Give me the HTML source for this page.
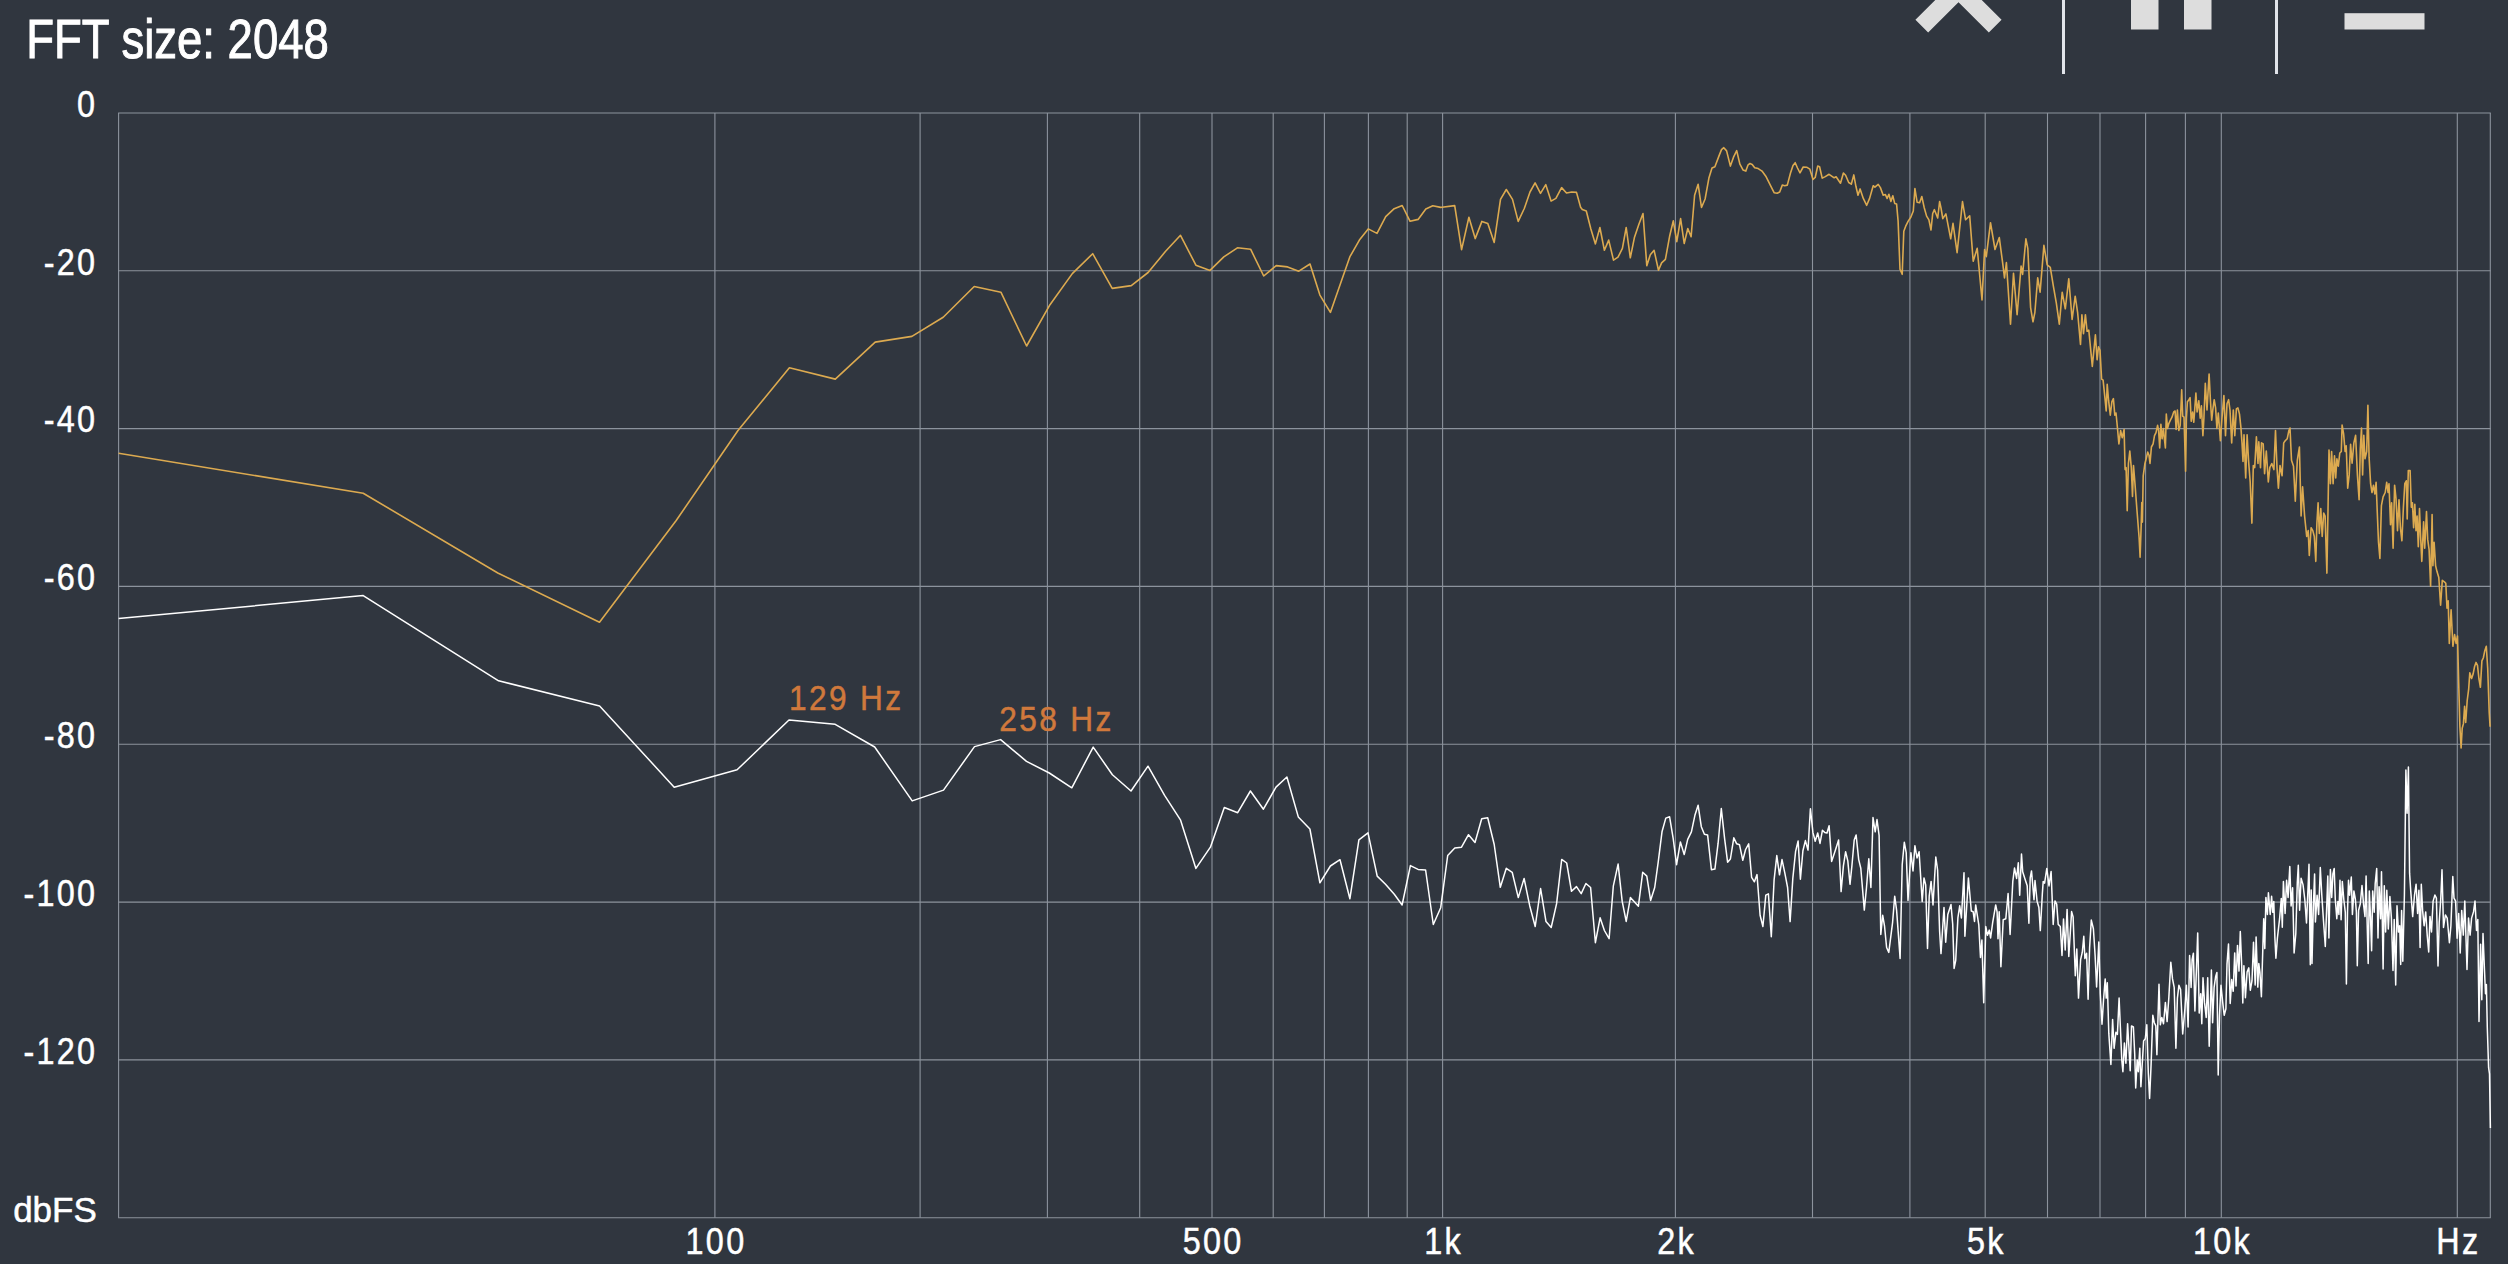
<!DOCTYPE html>
<html lang="en"><head><meta charset="utf-8"><title>FFT spectrum</title>
<style>html,body{margin:0;padding:0;background:#30363f;overflow:hidden}body{width:2508px;height:1264px}svg{display:block}text{font-family:"Liberation Sans",sans-serif}</style></head><body>
<svg width="2508" height="1264" viewBox="0 0 2508 1264">
<rect width="2508" height="1264" fill="#30363f"/>
<g stroke="#8c939d" stroke-width="1.1" fill="none">
<line x1="118.1" y1="113.0" x2="2490.8" y2="113.0"/>
<line x1="118.1" y1="270.8" x2="2490.8" y2="270.8"/>
<line x1="118.1" y1="428.6" x2="2490.8" y2="428.6"/>
<line x1="118.1" y1="586.4" x2="2490.8" y2="586.4"/>
<line x1="118.1" y1="744.3" x2="2490.8" y2="744.3"/>
<line x1="118.1" y1="902.1" x2="2490.8" y2="902.1"/>
<line x1="118.1" y1="1059.9" x2="2490.8" y2="1059.9"/>
<line x1="118.1" y1="1217.7" x2="2490.8" y2="1217.7"/>
<line x1="118.6" y1="113.0" x2="118.6" y2="1217.7"/>
<line x1="714.9" y1="113.0" x2="714.9" y2="1217.7"/>
<line x1="920.1" y1="113.0" x2="920.1" y2="1217.7"/>
<line x1="1047.4" y1="113.0" x2="1047.4" y2="1217.7"/>
<line x1="1139.7" y1="113.0" x2="1139.7" y2="1217.7"/>
<line x1="1212.0" y1="113.0" x2="1212.0" y2="1217.7"/>
<line x1="1273.2" y1="113.0" x2="1273.2" y2="1217.7"/>
<line x1="1324.4" y1="113.0" x2="1324.4" y2="1217.7"/>
<line x1="1368.4" y1="113.0" x2="1368.4" y2="1217.7"/>
<line x1="1407.2" y1="113.0" x2="1407.2" y2="1217.7"/>
<line x1="1442.6" y1="113.0" x2="1442.6" y2="1217.7"/>
<line x1="1675.4" y1="113.0" x2="1675.4" y2="1217.7"/>
<line x1="1812.5" y1="113.0" x2="1812.5" y2="1217.7"/>
<line x1="1909.9" y1="113.0" x2="1909.9" y2="1217.7"/>
<line x1="1985.2" y1="113.0" x2="1985.2" y2="1217.7"/>
<line x1="2047.5" y1="113.0" x2="2047.5" y2="1217.7"/>
<line x1="2100.0" y1="113.0" x2="2100.0" y2="1217.7"/>
<line x1="2145.6" y1="113.0" x2="2145.6" y2="1217.7"/>
<line x1="2185.4" y1="113.0" x2="2185.4" y2="1217.7"/>
<line x1="2221.3" y1="113.0" x2="2221.3" y2="1217.7"/>
<line x1="2457.3" y1="113.0" x2="2457.3" y2="1217.7"/>
<line x1="2490.3" y1="113.0" x2="2490.3" y2="1217.7"/>
</g>
<polyline fill="none" stroke="#dcaa50" stroke-width="1.6" stroke-linejoin="round" points="118.6,453.3 363.2,493.2 497.8,573.0 599.5,622.3 676.2,520.5 738.0,430.5 789.4,367.7 835.3,379.1 875.2,342.1 911.9,336.4 943.2,317.2 974.2,286.5 1000.9,292.2 1026.6,346.0 1050.0,304.7 1072.3,273.6 1092.7,253.7 1112.2,288.4 1131.3,285.6 1148.1,272.5 1165.6,251.3 1180.5,235.3 1195.9,265.2 1210.0,270.4 1223.8,256.9 1237.4,247.8 1250.6,249.2 1263.7,276.0 1276.2,265.6 1287.6,266.9 1298.8,271.2 1310.0,264.0 1319.9,295.1 1330.4,312.4 1340.6,283.2 1349.8,256.9 1359.4,240.1 1368.2,228.9 1377.0,233.4 1385.7,216.7 1394.2,208.7 1402.2,205.5 1410.1,221.3 1418.1,219.4 1425.8,209.0 1432.8,205.8 1440.7,207.4 1442.0,207.2 1454.7,205.6 1461.6,249.6 1468.9,217.3 1475.2,238.6 1481.9,221.4 1487.8,223.4 1494.2,242.4 1500.5,199.4 1506.3,189.5 1512.5,199.4 1518.2,221.4 1524.3,208.5 1530.0,192.0 1535.1,182.9 1540.5,193.3 1545.8,184.7 1551.1,201.1 1555.9,198.4 1561.6,187.6 1566.5,193.0 1571.8,192.0 1576.5,192.4 1580.6,207.2 1582.3,209.5 1586.3,211.0 1590.8,228.7 1595.4,243.9 1599.9,227.5 1604.4,250.3 1608.7,240.1 1613.5,260.1 1618.0,257.2 1622.4,248.4 1626.2,227.5 1630.3,257.8 1634.4,237.6 1638.9,224.3 1643.0,213.5 1646.8,265.7 1650.3,254.7 1654.1,250.3 1658.5,270.3 1661.6,262.9 1665.4,259.4 1669.6,236.3 1673.3,220.9 1676.8,241.6 1680.6,218.6 1684.2,243.5 1687.8,228.5 1691.1,236.7 1694.6,195.2 1698.1,184.2 1701.5,207.5 1705.1,199.0 1708.9,178.1 1712.0,168.0 1714.9,166.7 1719.0,155.9 1721.5,149.6 1723.8,147.7 1726.6,150.9 1730.4,166.1 1733.5,157.2 1736.7,150.6 1739.9,164.2 1743.0,169.9 1745.8,171.1 1748.1,164.8 1750.0,163.5 1752.2,164.4 1754.7,167.7 1758.2,168.6 1762.0,171.1 1765.8,176.2 1770.3,185.1 1774.1,192.7 1777.2,193.3 1779.7,192.0 1782.3,185.1 1784.6,185.7 1787.3,185.1 1790.5,173.0 1793.0,165.4 1795.2,162.7 1797.5,168.0 1800.0,172.8 1803.2,167.0 1807.0,167.3 1809.9,169.2 1813.0,179.4 1815.2,177.5 1817.7,166.1 1819.6,166.7 1822.2,178.1 1825.3,176.6 1829.1,174.3 1834.2,177.8 1836.1,176.8 1840.5,183.2 1843.4,173.0 1845.6,175.3 1848.7,182.5 1851.3,184.2 1853.8,174.9 1855.9,186.3 1858.0,195.2 1860.1,188.9 1863.3,198.4 1866.7,205.3 1869.6,198.4 1873.2,185.7 1874.9,187.2 1878.2,184.4 1880.4,187.6 1883.2,195.2 1885.4,194.6 1887.1,198.4 1888.9,194.3 1890.9,201.5 1892.8,195.8 1894.7,203.4 1896.6,204.1 1898.1,221.1 1900.0,269.2 1902.2,274.3 1903.8,231.3 1905.7,226.2 1908.2,221.1 1910.8,217.3 1913.3,211.0 1914.9,188.5 1917.1,202.2 1919.6,202.8 1921.8,196.5 1924.1,207.2 1926.6,216.1 1928.9,219.9 1931.0,230.0 1932.7,213.5 1934.4,209.7 1937.7,218.0 1939.6,201.5 1941.1,208.5 1942.8,218.6 1945.9,213.9 1950.7,238.8 1953.0,223.4 1957.1,252.6 1962.5,201.6 1965.6,219.8 1969.7,215.8 1973.2,261.3 1977.2,248.3 1982.0,300.0 1984.6,249.5 1986.3,256.6 1990.5,222.7 1995.0,249.5 1999.3,237.6 2002.9,264.9 2004.5,277.9 2006.4,262.5 2010.5,324.2 2013.5,273.2 2017.1,314.7 2021.1,266.1 2022.6,274.4 2025.9,238.8 2027.8,248.3 2030.6,307.6 2033.0,321.8 2034.9,312.3 2037.7,277.9 2040.1,292.2 2043.9,245.4 2047.2,264.9 2050.3,267.3 2053.4,286.3 2056.3,302.9 2059.3,324.2 2062.2,292.2 2065.3,308.8 2068.8,278.7 2072.1,319.5 2075.2,296.2 2077.6,312.3 2080.5,344.4 2081.9,314.7 2083.5,333.7 2085.4,314.7 2087.1,331.3 2088.8,330.1 2092.3,366.4 2095.4,334.9 2097.1,359.8 2098.5,346.7 2100.0,350.3 2101.6,379.1 2103.1,380.1 2105.1,399.7 2106.2,411.0 2107.2,384.2 2108.6,400.7 2110.3,415.1 2111.9,401.7 2113.4,398.6 2114.8,415.1 2116.0,413.0 2117.5,428.5 2118.9,443.9 2120.6,430.5 2122.2,437.7 2124.1,429.5 2125.1,469.6 2126.1,467.6 2127.2,510.8 2128.4,463.5 2129.8,451.1 2131.3,467.6 2132.5,496.4 2133.5,465.5 2135.0,484.0 2137.0,510.8 2139.1,537.5 2140.1,557.1 2141.2,525.2 2141.8,502.6 2142.4,522.1 2143.2,475.8 2144.9,463.5 2146.3,458.3 2147.7,452.1 2149.0,455.2 2150.0,463.5 2151.4,447.0 2153.1,443.9 2154.5,435.7 2156.0,432.6 2157.6,425.4 2158.6,430.5 2159.7,448.0 2160.9,424.4 2162.1,438.8 2163.4,428.5 2164.4,438.8 2165.4,448.0 2166.3,414.1 2167.5,428.5 2168.9,423.3 2170.4,420.2 2172.0,417.2 2173.7,412.0 2175.1,411.0 2176.1,429.5 2177.4,410.0 2178.8,430.5 2180.2,425.4 2181.7,389.8 2182.7,416.1 2184.0,417.2 2185.6,471.3 2186.4,418.2 2187.4,401.7 2188.9,399.7 2190.1,397.6 2191.2,421.3 2192.6,412.0 2193.8,422.3 2195.9,393.1 2197.1,412.0 2198.8,400.7 2200.2,418.2 2201.4,405.8 2202.9,435.7 2203.9,418.2 2205.3,383.2 2207.0,410.0 2209.1,374.0 2210.5,401.7 2211.7,420.2 2212.8,410.0 2214.2,399.7 2215.6,407.9 2216.9,428.5 2218.3,413.0 2220.4,440.8 2221.8,420.2 2223.9,395.6 2225.5,435.7 2227.0,403.8 2228.6,399.7 2230.0,410.0 2231.7,442.9 2233.3,410.0 2234.8,435.7 2236.4,408.9 2237.9,407.9 2239.5,414.1 2240.9,427.4 2242.0,442.9 2243.0,461.4 2244.0,434.7 2245.7,477.9 2247.1,434.7 2248.6,461.4 2250.2,482.0 2251.9,523.1 2253.3,465.5 2254.7,467.6 2256.4,436.7 2258.0,463.5 2258.8,441.9 2260.5,467.6 2261.5,442.9 2263.2,443.9 2264.6,473.7 2266.3,451.1 2268.3,482.0 2269.8,467.6 2271.8,463.5 2273.9,469.6 2275.5,430.5 2277.0,467.6 2278.4,488.1 2280.0,465.5 2282.1,475.8 2283.7,442.9 2285.2,440.8 2287.2,438.8 2288.9,430.5 2290.0,428.1 2291.5,460.3 2293.5,466.2 2295.3,501.3 2297.3,460.3 2299.4,447.1 2301.1,516.0 2302.6,486.7 2304.6,516.0 2306.7,536.5 2308.2,530.6 2309.3,555.5 2311.1,527.7 2312.8,530.6 2314.3,536.5 2315.8,561.4 2316.9,523.3 2318.1,502.8 2319.3,533.5 2320.8,508.6 2322.2,536.5 2323.7,513.0 2325.1,516.0 2326.9,573.1 2328.1,504.2 2329.0,450.0 2330.4,483.7 2331.6,451.5 2333.1,483.7 2334.5,455.9 2335.7,477.9 2336.9,458.8 2338.3,466.2 2339.8,453.0 2341.3,451.5 2342.1,425.1 2343.6,433.9 2345.1,451.5 2346.2,445.7 2347.7,488.1 2349.2,474.9 2350.6,444.2 2352.1,463.2 2353.9,442.7 2355.6,435.4 2357.4,474.9 2359.1,499.8 2360.3,448.6 2361.5,428.1 2362.6,474.9 2363.8,435.4 2365.0,458.8 2366.7,451.5 2367.9,405.2 2369.1,457.4 2370.6,483.7 2372.0,492.5 2373.5,485.2 2374.9,494.0 2376.1,482.3 2377.3,513.0 2378.5,542.3 2379.9,558.4 2381.4,505.7 2383.1,496.9 2385.2,492.5 2386.7,482.3 2388.1,492.5 2389.0,483.7 2390.5,524.7 2391.6,502.8 2393.1,548.2 2394.6,485.2 2396.0,498.4 2397.5,530.6 2399.0,499.8 2400.4,527.7 2401.9,540.8 2403.4,507.2 2404.8,483.7 2406.3,480.8 2407.2,518.9 2408.3,470.6 2410.1,470.6 2411.3,507.2 2412.4,502.8 2413.6,527.7 2414.8,504.2 2416.0,530.6 2417.1,516.0 2418.3,546.7 2419.5,508.6 2420.6,536.5 2421.8,561.4 2423.6,521.8 2424.7,548.2 2426.5,511.6 2427.7,539.4 2429.1,549.6 2430.6,586.3 2432.1,514.5 2432.9,565.7 2434.1,542.3 2435.6,565.7 2437.0,571.6 2438.8,577.5 2440.6,605.3 2442.3,580.4 2444.4,581.9 2445.8,583.3 2447.0,608.2 2448.2,600.9 2449.3,643.4 2451.1,609.7 2452.9,646.3 2454.6,634.6 2456.1,643.4 2457.5,636.0 2458.7,682.9 2459.9,726.8 2461.1,747.9 2462.2,728.3 2463.4,723.9 2464.6,706.3 2465.7,722.5 2467.2,700.5 2468.7,688.8 2469.8,672.7 2471.6,678.5 2473.1,674.1 2474.5,666.8 2476.0,662.4 2477.5,665.3 2478.9,678.5 2480.4,687.3 2481.9,660.9 2483.3,658.0 2484.8,650.7 2486.3,646.3 2487.7,668.3 2489.2,712.2 2490.1,726.8"/>
<polyline fill="none" stroke="#ffffff" stroke-width="1.5" stroke-linejoin="round" points="118.6,618.5 363.2,595.6 498.6,680.8 599.6,705.9 674.2,787.2 737.1,769.8 789.0,720.0 835.2,724.3 874.7,747.0 912.2,800.9 943.5,790.1 974.5,746.6 1000.6,739.6 1026.5,761.4 1049.3,773.0 1071.8,787.8 1093.2,747.1 1112.4,774.8 1131.0,791.0 1148.0,766.2 1164.6,795.3 1180.6,820.2 1195.9,868.4 1210.4,847.2 1224.3,807.5 1237.7,812.7 1250.4,791.0 1263.4,809.2 1276.0,787.1 1286.9,777.0 1298.3,816.9 1309.9,829.0 1319.9,882.8 1330.4,866.0 1340.0,859.7 1349.9,898.7 1358.9,839.8 1368.0,832.8 1377.2,876.1 1385.5,884.2 1394.3,894.3 1402.1,905.0 1410.4,865.6 1418.1,869.4 1425.6,870.0 1433.3,924.5 1440.7,907.7 1447.7,855.5 1454.8,848.1 1461.5,847.2 1468.5,834.7 1475.0,842.5 1481.7,818.7 1487.7,817.8 1494.2,844.5 1500.3,887.3 1506.3,868.3 1512.2,872.3 1518.3,897.6 1524.1,878.4 1529.7,905.7 1535.2,926.5 1540.6,888.5 1546.0,921.6 1551.2,927.5 1556.6,903.7 1561.7,859.4 1566.7,863.0 1571.5,891.3 1576.5,886.6 1581.2,893.6 1585.9,883.5 1590.6,887.5 1595.4,942.7 1600.1,917.8 1604.4,930.5 1609.1,938.7 1613.3,886.2 1618.1,864.1 1622.2,901.4 1626.2,921.4 1630.4,897.6 1638.4,906.2 1642.7,872.3 1646.8,876.1 1650.6,900.4 1654.7,887.5 1658.2,862.2 1662.0,831.8 1665.8,818.1 1669.6,816.8 1673.2,838.7 1676.6,864.7 1680.4,841.9 1684.2,854.6 1687.7,839.4 1691.4,831.8 1694.9,815.3 1698.1,805.2 1701.3,826.7 1704.4,834.3 1707.6,834.9 1711.4,869.7 1714.9,869.1 1718.1,843.2 1721.3,808.6 1724.7,839.4 1727.6,862.2 1730.4,859.0 1733.8,837.8 1736.7,843.8 1739.5,844.7 1742.8,860.3 1745.6,849.5 1748.7,843.8 1751.6,877.3 1754.4,881.8 1757.0,874.6 1760.1,915.3 1762.9,926.5 1765.8,895.1 1768.4,893.8 1771.3,936.8 1774.1,879.9 1776.8,855.6 1779.5,874.8 1782.0,859.6 1784.8,872.9 1787.6,887.5 1790.1,921.6 1792.8,878.6 1795.6,851.4 1798.1,840.9 1800.4,879.2 1802.9,850.8 1805.4,840.6 1808.0,850.1 1810.4,808.7 1812.9,832.4 1815.2,841.3 1817.7,833.0 1820.0,843.4 1822.4,830.3 1824.7,832.4 1827.0,833.0 1829.1,825.8 1831.6,861.5 1835.2,850.8 1838.6,840.0 1841.1,891.6 1843.4,865.9 1845.6,851.8 1847.8,860.9 1850.0,884.3 1851.9,865.9 1854.2,840.0 1856.1,834.9 1858.7,859.6 1860.8,868.3 1864.3,910.1 1866.5,887.5 1868.8,858.8 1870.9,887.5 1873.0,817.5 1875.2,831.8 1877.0,819.6 1879.1,835.3 1880.8,934.5 1882.7,915.3 1884.5,925.8 1886.6,947.5 1888.8,952.4 1892.6,922.3 1894.7,896.2 1896.6,910.1 1900.1,958.5 1902.2,864.8 1904.3,842.2 1906.2,852.7 1908.0,900.5 1910.9,852.7 1913.0,870.9 1914.9,845.7 1917.0,857.9 1919.1,851.8 1922.2,901.4 1924.0,877.9 1925.7,884.9 1927.5,948.4 1929.2,896.2 1931.1,881.4 1933.0,904.9 1935.8,857.0 1937.6,870.1 1939.6,931.0 1941.0,953.6 1944.0,907.5 1945.7,942.3 1947.8,914.5 1951.0,904.5 1952.7,924.0 1954.1,968.4 1955.7,960.6 1957.9,917.9 1959.7,905.8 1961.4,917.9 1964.0,872.7 1964.9,936.2 1968.4,877.9 1971.3,911.0 1973.2,911.8 1974.5,921.4 1975.7,904.9 1978.8,924.9 1980.5,957.4 1981.9,940.0 1983.7,1002.7 1985.8,926.6 1987.5,935.3 1989.3,930.1 1990.6,938.0 1992.7,922.3 1995.7,904.9 1997.1,911.8 1998.0,938.8 1999.2,911.8 2000.9,966.7 2003.2,919.7 2005.8,918.8 2008.1,893.6 2010.1,934.5 2012.8,881.4 2014.5,868.0 2016.6,878.4 2018.3,862.8 2019.7,895.3 2021.5,854.1 2022.7,871.8 2024.9,878.8 2027.2,885.7 2028.9,923.2 2030.2,877.9 2031.5,870.9 2034.0,899.7 2035.0,880.5 2037.1,901.4 2038.9,907.5 2040.3,930.6 2042.3,894.4 2043.2,881.4 2044.6,883.1 2046.8,868.4 2049.0,885.9 2051.1,871.6 2053.2,924.4 2055.0,900.9 2056.7,904.1 2058.2,924.4 2060.3,926.5 2062.0,955.4 2063.5,919.1 2065.2,950.0 2067.1,909.4 2068.8,956.5 2071.6,911.6 2073.1,916.9 2075.3,975.7 2076.8,949.0 2078.5,998.1 2080.6,959.7 2082.3,952.2 2083.8,936.2 2084.9,958.6 2086.6,953.2 2088.1,999.2 2089.6,947.9 2091.3,920.1 2093.4,928.7 2095.1,955.4 2096.6,987.0 2098.8,942.1 2100.3,993.8 2102.0,1024.2 2103.5,1000.3 2105.2,978.9 2106.2,998.1 2107.3,982.7 2108.8,1033.4 2110.9,1064.4 2112.6,1019.5 2114.1,1048.3 2115.9,1032.3 2117.4,1034.4 2119.1,998.1 2120.6,1032.3 2121.8,1060.1 2122.9,1071.8 2124.4,1043.0 2125.9,1063.3 2127.6,1023.8 2129.1,1050.5 2130.2,1070.8 2131.5,1025.9 2133.4,1027.0 2134.7,1053.7 2135.7,1087.9 2137.2,1060.1 2138.3,1071.8 2139.8,1048.3 2140.9,1086.8 2142.1,1066.5 2143.6,1040.9 2145.3,1038.7 2146.8,1024.8 2148.3,1072.9 2149.6,1098.5 2151.1,1064.4 2152.8,1015.2 2154.3,1022.7 2155.8,1025.9 2156.9,1054.7 2159.0,984.2 2160.3,1024.8 2161.8,1017.4 2163.5,1023.8 2165.4,1002.4 2167.1,1021.6 2168.8,998.1 2170.8,962.2 2172.5,978.9 2174.2,987.4 2175.9,1048.3 2177.4,998.1 2178.9,985.3 2180.6,989.6 2182.7,1034.0 2184.9,1008.8 2186.4,985.3 2188.1,1027.0 2189.6,955.4 2191.1,987.4 2192.1,959.7 2193.4,953.2 2194.9,1010.9 2196.4,970.3 2197.7,932.9 2199.2,1013.1 2200.7,993.8 2201.8,1023.8 2203.0,977.8 2204.5,1002.4 2206.2,1017.4 2207.7,977.8 2209.2,1046.2 2211.4,969.9 2212.6,1022.7 2214.1,987.4 2215.6,976.8 2216.9,972.5 2218.2,1075.0 2219.5,1015.2 2221.0,985.3 2222.7,1002.4 2224.2,1015.2 2225.9,1008.8 2227.0,963.9 2228.5,944.1 2230.2,1003.5 2231.7,979.6 2233.2,991.3 2234.7,952.9 2236.0,986.0 2237.5,945.4 2239.0,971.1 2240.3,931.5 2241.7,965.7 2242.8,1003.1 2243.9,965.7 2245.4,997.8 2247.1,972.1 2248.8,967.9 2250.3,990.3 2252.0,980.7 2253.5,942.2 2255.2,984.9 2256.1,936.9 2257.8,987.1 2258.8,963.6 2259.9,972.1 2261.4,996.7 2262.5,959.3 2263.7,918.7 2264.8,948.6 2265.9,897.4 2267.4,914.5 2268.4,892.7 2270.2,914.5 2271.6,896.3 2272.7,912.3 2273.8,901.6 2274.9,938.0 2275.9,958.2 2277.4,938.0 2279.6,918.7 2281.3,898.4 2282.3,927.3 2283.4,881.4 2285.1,913.4 2286.6,880.3 2288.1,897.4 2289.8,866.4 2291.1,905.9 2292.6,887.8 2294.1,952.9 2295.8,933.7 2297.3,882.4 2298.3,865.3 2299.6,910.2 2301.1,878.2 2303.0,884.6 2304.8,899.5 2306.5,923.0 2308.0,888.8 2309.0,864.3 2310.3,964.7 2311.2,889.9 2312.0,963.6 2313.3,908.1 2314.6,873.9 2315.4,921.9 2317.1,895.2 2318.6,914.5 2320.3,867.5 2321.8,895.2 2323.5,920.9 2325.3,946.5 2326.5,912.3 2327.8,876.0 2328.9,938.0 2330.4,869.6 2331.7,897.4 2332.9,873.9 2334.2,868.5 2335.3,899.5 2336.8,918.7 2337.9,901.6 2338.9,914.5 2340.0,880.3 2341.1,919.8 2342.3,881.4 2343.8,899.5 2345.3,912.3 2346.4,983.9 2347.5,912.3 2348.5,880.3 2349.6,895.2 2351.3,877.1 2352.4,914.5 2353.9,891.0 2355.4,899.5 2356.4,912.3 2357.3,965.7 2358.6,910.2 2360.3,903.8 2362.0,885.6 2363.5,903.8 2365.0,916.6 2366.1,876.0 2367.1,920.9 2368.2,963.6 2369.3,891.0 2370.5,916.6 2371.6,950.8 2372.7,891.0 2374.2,912.3 2375.2,883.5 2376.7,868.5 2378.0,938.0 2379.1,886.7 2380.6,918.7 2381.5,871.8 2383.1,969.0 2384.3,885.7 2385.6,932.0 2386.8,890.3 2388.3,928.9 2389.9,896.5 2391.4,918.1 2393.0,970.5 2394.2,919.6 2395.7,985.0 2397.0,905.8 2398.5,932.0 2399.7,925.8 2400.7,964.4 2401.6,910.4 2402.8,961.3 2404.4,895.0 2405.9,770.0 2407.1,813.2 2408.4,767.0 2409.6,873.4 2410.8,891.9 2412.7,916.6 2414.5,895.0 2416.1,884.2 2417.6,913.5 2418.9,890.3 2420.1,947.4 2421.3,884.2 2422.6,910.4 2424.1,925.8 2425.7,911.9 2427.2,935.1 2428.7,952.0 2430.0,916.6 2431.5,932.0 2433.1,901.1 2434.9,895.0 2436.4,898.1 2438.0,965.9 2439.2,922.7 2440.8,898.1 2442.0,869.7 2443.5,927.4 2445.4,915.0 2447.2,918.1 2449.4,942.8 2450.9,925.8 2452.8,876.5 2454.0,898.1 2455.6,901.1 2457.1,938.2 2458.7,913.5 2460.2,953.0 2461.7,910.4 2463.3,935.1 2464.8,901.1 2467.0,969.6 2468.5,918.1 2470.1,935.1 2471.6,918.1 2473.5,911.9 2475.0,901.1 2476.5,930.4 2477.8,919.6 2479.0,1021.4 2480.6,944.3 2481.8,999.8 2483.0,933.5 2484.3,965.9 2485.5,993.7 2486.4,984.4 2487.3,1027.6 2488.6,1067.7 2489.5,1073.9 2490.4,1127.9"/>
<g fill="#ffffff" stroke="#ffffff" stroke-width="0.5">
<text transform="translate(97.3 116.8) scale(0.875 1)" text-anchor="end" font-size="37" letter-spacing="2.6">0</text>
<text transform="translate(97.3 274.6) scale(0.875 1)" text-anchor="end" font-size="37" letter-spacing="2.6">-20</text>
<text transform="translate(97.3 432.4) scale(0.875 1)" text-anchor="end" font-size="37" letter-spacing="2.6">-40</text>
<text transform="translate(97.3 590.2) scale(0.875 1)" text-anchor="end" font-size="37" letter-spacing="2.6">-60</text>
<text transform="translate(97.3 748.1) scale(0.875 1)" text-anchor="end" font-size="37" letter-spacing="2.6">-80</text>
<text transform="translate(97.3 905.9) scale(0.875 1)" text-anchor="end" font-size="37" letter-spacing="2.6">-100</text>
<text transform="translate(97.3 1063.7) scale(0.875 1)" text-anchor="end" font-size="37" letter-spacing="2.6">-120</text>
<text transform="translate(96.8 1221.8) scale(1.000 1)" text-anchor="end" font-size="35" letter-spacing="0.0">dbFS</text>
<text transform="translate(716.0 1253.6) scale(0.875 1)" text-anchor="middle" font-size="37" letter-spacing="2.6">100</text>
<text transform="translate(1213.1 1253.6) scale(0.875 1)" text-anchor="middle" font-size="37" letter-spacing="2.6">500</text>
<text transform="translate(1443.7 1253.6) scale(0.875 1)" text-anchor="middle" font-size="37" letter-spacing="2.6">1k</text>
<text transform="translate(1676.5 1253.6) scale(0.875 1)" text-anchor="middle" font-size="37" letter-spacing="2.6">2k</text>
<text transform="translate(1986.3 1253.6) scale(0.875 1)" text-anchor="middle" font-size="37" letter-spacing="2.6">5k</text>
<text transform="translate(2222.4 1253.6) scale(0.875 1)" text-anchor="middle" font-size="37" letter-spacing="2.6">10k</text>
<text transform="translate(2458.4 1253.6) scale(0.875 1)" text-anchor="middle" font-size="37" letter-spacing="2.6">Hz</text>
</g>
<g fill="#d0793c" stroke="#d0793c" stroke-width="0.5">
<text transform="translate(789.1 710.3) scale(0.905 1)" text-anchor="start" font-size="35" letter-spacing="2.6">129 Hz</text>
<text transform="translate(999.3 730.5) scale(0.905 1)" text-anchor="start" font-size="35" letter-spacing="2.6">258 Hz</text>
</g>
<text x="26.3" y="57.7" font-size="55.5" fill="#ffffff" stroke="#ffffff" stroke-width="1" textLength="302.5" lengthAdjust="spacingAndGlyphs">FFT size: 2048</text>
<g fill="#dddddd">
<rect x="2062" y="0" width="3" height="74" fill="#e1e4ea"/><rect x="2275" y="0" width="3" height="74" fill="#e1e4ea"/>
<rect x="2131" y="0" width="27.5" height="29.5"/><rect x="2184" y="0" width="27.5" height="29.5"/>
<rect x="2344.5" y="13.2" width="80" height="16.3"/>
</g>
<g stroke="#dddddd" stroke-width="18" fill="none"><path d="M1921.8 26.2 L1958.5 -10.5 L1995.2 26.2"/></g>
</svg></body></html>
